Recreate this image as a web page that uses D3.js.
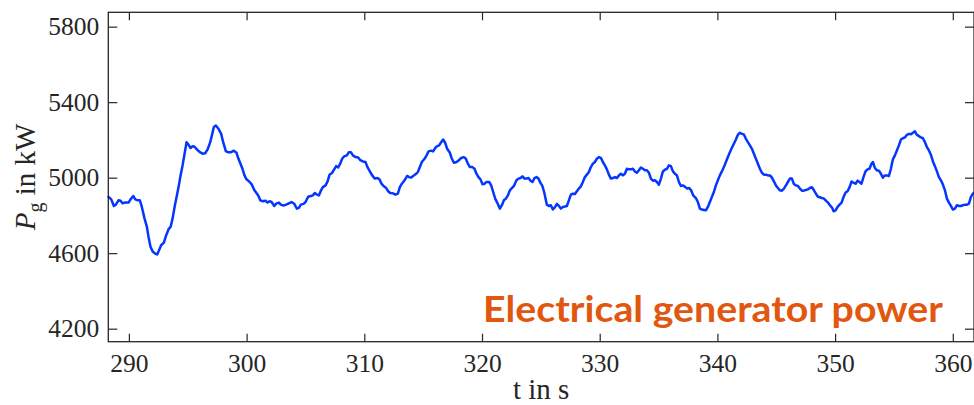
<!DOCTYPE html>
<html>
<head>
<meta charset="utf-8">
<script src="https://cdn.jsdelivr.net/npm/d3@7"></script>
<style>
  html, body { margin: 0; padding: 0; background: #fff; }
  svg { display: block; }
</style>
</head>
<body>
<svg id="chart" width="974" height="405"></svg>
<script>
// Generator power trace, time in s and power in kW
const time = [
  288.27,288.50,288.72,288.89,289.12,289.29,289.46,289.69,289.97,290.14,290.37,290.54,290.76,290.93,
  291.10,291.33,291.53,291.67,291.84,292.04,292.23,292.40,292.57,292.74,292.97,293.17,293.37,293.54,
  293.71,293.88,294.05,294.22,294.39,294.56,294.73,294.90,295.07,295.24,295.41,295.58,295.80,296.03,
  296.26,296.48,296.71,296.91,297.05,297.22,297.39,297.61,297.84,298.01,298.24,298.46,298.69,298.92,
  299.14,299.31,299.48,299.65,299.82,299.99,300.22,300.45,300.65,300.99,301.16,301.38,301.61,301.78,
  301.95,302.12,302.35,302.51,302.74,302.91,303.14,303.36,303.59,303.82,304.04,304.27,304.44,304.61,
  304.84,305.01,305.23,305.46,305.63,305.80,305.97,306.14,306.31,306.48,306.71,306.88,307.05,307.27,
  307.44,307.61,307.78,307.95,308.12,308.29,308.52,308.69,308.86,309.03,309.26,309.48,309.65,309.88,
  310.10,310.27,310.50,310.67,310.90,311.12,311.29,311.46,311.63,311.86,312.03,312.20,312.43,312.65,
  312.85,313.02,313.19,313.42,313.64,313.81,313.98,314.15,314.38,314.55,314.72,314.89,315.12,315.29,
  315.46,315.68,315.85,316.02,316.19,316.36,316.53,316.70,316.87,317.04,317.27,317.44,317.61,317.84,
  318.01,318.23,318.46,318.63,318.80,318.97,319.19,319.36,319.53,319.70,319.87,320.04,320.21,320.38,
  320.61,320.78,320.95,321.12,321.29,321.52,321.69,321.86,322.03,322.20,322.37,322.54,322.71,322.93,
  323.10,323.27,323.44,323.61,323.78,323.95,324.12,324.29,324.46,324.63,324.80,324.97,325.11,325.28,
  325.40,325.51,325.68,325.85,326.02,326.19,326.36,326.53,326.70,326.87,327.04,327.21,327.38,327.55,
  327.72,327.89,328.06,328.23,328.40,328.57,328.74,328.91,329.08,329.25,329.42,329.59,329.76,329.93,
  330.10,330.27,330.44,330.61,330.78,330.95,331.12,331.29,331.46,331.63,331.80,331.97,332.14,332.31,
  332.48,332.65,332.82,332.99,333.16,333.33,333.50,333.67,333.84,334.01,334.18,334.35,334.52,334.69,
  334.86,335.03,335.20,335.37,335.54,335.71,335.88,336.05,336.22,336.39,336.56,336.73,336.90,337.07,
  337.24,337.43,337.60,337.77,337.94,338.17,338.34,338.51,338.68,338.85,339.02,339.19,339.36,339.53,
  339.70,339.87,340.04,340.21,340.38,340.55,340.72,340.89,341.06,341.23,341.40,341.57,341.74,341.91,
  342.08,342.25,342.42,342.59,342.76,342.93,343.10,343.27,343.44,343.61,343.78,343.95,344.12,344.29,
  344.46,344.63,344.80,344.97,345.14,345.31,345.48,345.65,345.82,345.99,346.16,346.33,346.50,346.67,
  346.84,347.01,347.18,347.35,347.52,347.69,347.86,348.03,348.20,348.37,348.54,348.71,348.88,349.05,
  349.22,349.39,349.56,349.75,349.87,350.04,350.21,350.38,350.55,350.72,350.89,351.06,351.23,351.40,
  351.57,351.74,351.91,352.07,352.24,352.41,352.58,352.75,352.92,353.09,353.21,353.38,353.55,353.72,
  353.89,354.06,354.23,354.40,354.57,354.74,354.91,355.08,355.25,355.42,355.59,355.76,355.93,356.10,
  356.27,356.44,356.61,356.78,356.95,357.12,357.29,357.46,357.63,357.80,357.97,358.14,358.31,358.48,
  358.65,358.82,358.99,359.16,359.33,359.50,359.67,359.84,360.01,360.18,360.35,360.52,360.69,360.86,
  361.03,361.20,361.37,361.54,361.71,361.82
];
const power = [
  4898,4885,4850,4857,4880,4878,4864,4868,4868,4885,4903,4885,4880,4880,
  4845,4783,4739,4686,4633,4607,4598,4593,4616,4642,4656,4695,4727,4739,
  4783,4845,4898,4950,5012,5065,5127,5188,5174,5157,5167,5164,5148,5135,
  5127,5129,5153,5188,5224,5268,5276,5259,5232,5188,5139,5135,5135,5143,
  5132,5100,5074,5047,5012,4991,4980,4963,4935,4906,4880,4875,4878,4868,
  4875,4871,4850,4862,4868,4857,4852,4857,4864,4871,4862,4836,4840,4857,
  4861,4871,4899,4903,4906,4919,4910,4906,4931,4950,4959,4980,5016,5026,
  5044,5061,5054,5074,5100,5113,5118,5135,5135,5118,5109,5107,5093,5086,
  5083,5056,5030,5012,4995,4998,4991,4968,4956,4945,4928,4919,4917,4910,
  4915,4950,4968,4986,5009,5003,5000,5009,5019,5030,5056,5083,5100,5118,
  5139,5143,5139,5157,5167,5171,5188,5202,5185,5153,5132,5100,5079,5083,
  5091,5104,5109,5100,5074,5056,5056,5047,5021,5003,4991,4965,4968,4977,
  4977,4959,4924,4889,4868,4836,4854,4880,4889,4906,4933,4945,4956,4986,
  4995,4998,5007,4995,4995,4998,4984,4977,4998,5003,4995,4972,4959,4924,
  4889,4857,4850,4854,4832,4843,4861,4850,4836,4845,4847,4850,4880,4910,
  4915,4913,4928,4942,4954,4977,5003,5016,5030,5056,5074,5083,5100,5109,
  5105,5083,5065,5044,5016,4995,4998,5003,4998,5012,5021,5012,5021,5047,
  5044,5044,5047,5033,5026,5039,5054,5047,5039,5039,5026,4995,4984,4986,
  4977,4963,4995,5033,5042,5047,5065,5061,5033,5021,5012,4977,4956,4959,
  4952,4942,4945,4933,4906,4892,4871,4836,4831,4829,4827,4845,4871,4898,
  4924,4959,4986,5012,5033,5056,5083,5109,5135,5158,5180,5202,5227,5238,
  5232,5229,5206,5188,5171,5153,5127,5100,5074,5047,5026,5016,5016,5012,
  5012,5000,4980,4959,4945,4933,4931,4942,4959,4977,4995,4995,4966,4959,
  4956,4942,4931,4931,4935,4938,4945,4949,4933,4915,4899,4896,4892,4889,
  4878,4868,4854,4840,4822,4827,4845,4857,4868,4898,4921,4928,4950,4980,
  4973,4968,4984,4977,4968,5003,5033,5044,5047,5074,5083,5051,5039,5037,
  5021,5000,5012,5012,5009,5047,5097,5118,5144,5171,5202,5209,5213,5227,
  5232,5230,5238,5245,5227,5220,5213,5209,5188,5162,5144,5121,5086,5061,
  5033,5003,4986,4963,4933,4889,4868,4850,4831,4836,4854,4850,4850,4854,
  4857,4857,4862,4898,4915,4921
];

const xTicks = [290, 300, 310, 320, 330, 340, 350, 360];
const yTicks = [4200, 4600, 5000, 5400, 5800];
const xDomain = [288.25, 361.8];
const yDomain = [4131, 5876];
const xLabel = "t in s";
const yLabelVar = "P";
const yLabelSub = "g";
const yLabelUnit = " in kW";
const annotation = "Electrical generator power";

const axisColor = "#262626";
const lineColor = "#0536ff";
const noteColor = "#e2570f";
const serif = "'Liberation Serif', 'DejaVu Serif', serif";

const svg = d3.select("#chart");
const plot = { left: 108.3, right: 974, top: 12.3, bottom: 341.7 };

const x = d3.scaleLinear().domain(xDomain).range([plot.left, plot.right]);
const y = d3.scaleLinear().domain(yDomain).range([plot.bottom, plot.top]);

// Data line
const series = time.map((t, i) => ({ t, p: power[i] }));
svg.append("path")
  .datum(series)
  .attr("fill", "none")
  .attr("stroke", lineColor)
  .attr("stroke-width", 2.5)
  .attr("stroke-linejoin", "round")
  .attr("stroke-linecap", "round")
  .attr("d", d3.line().x(d => x(d.t)).y(d => y(d.p)));

// Axes with inward ticks on all four sides
function styleAxis(g, showLabels) {
  g.select(".domain").remove();
  g.selectAll(".tick line").attr("stroke", axisColor).attr("stroke-width", 1.2);
  g.selectAll(".tick text")
    .attr("fill", axisColor)
    .style("font-family", serif)
    .style("font-size", "25.5px");
  if (!showLabels) g.selectAll(".tick text").remove();
}

svg.append("g")
  .attr("transform", `translate(0,${plot.bottom})`)
  .call(d3.axisBottom(x).tickValues(xTicks).tickFormat(d3.format("d")).tickSizeInner(-8).tickSizeOuter(0).tickPadding(12))
  .call(g => styleAxis(g, true));

svg.append("g")
  .attr("transform", `translate(0,${plot.top})`)
  .call(d3.axisTop(x).tickValues(xTicks).tickSizeInner(-8).tickSizeOuter(0))
  .call(g => styleAxis(g, false));

svg.append("g")
  .attr("transform", `translate(${plot.left},0)`)
  .call(d3.axisLeft(y).tickValues(yTicks).tickFormat(d3.format("d")).tickSizeInner(-9).tickSizeOuter(0).tickPadding(9))
  .call(g => styleAxis(g, true));

svg.append("g")
  .attr("transform", `translate(${plot.right},0)`)
  .call(d3.axisRight(y).tickValues(yTicks).tickSizeInner(-9).tickSizeOuter(0))
  .call(g => styleAxis(g, false));

// Plot frame
svg.append("rect")
  .attr("x", plot.left).attr("y", plot.top)
  .attr("width", plot.right - plot.left).attr("height", plot.bottom - plot.top)
  .attr("fill", "none").attr("stroke", axisColor).attr("stroke-width", 1.3);

// Axis titles
svg.append("text")
  .attr("x", (plot.left + plot.right) / 2)
  .attr("y", 399)
  .attr("text-anchor", "middle")
  .attr("fill", axisColor)
  .style("font-family", serif)
  .style("font-size", "29px")
  .text(xLabel);

const yTitle = svg.append("text")
  .attr("transform", `translate(35,${(plot.top + plot.bottom) / 2}) rotate(-90)`)
  .attr("text-anchor", "middle")
  .attr("fill", axisColor)
  .style("font-family", serif)
  .style("font-size", "29px");
yTitle.append("tspan").style("font-style", "italic").text(yLabelVar);
yTitle.append("tspan").attr("dy", 7).style("font-size", "20px").text(yLabelSub);
yTitle.append("tspan").attr("dy", -7).text(yLabelUnit);

// Annotation
svg.append("text")
  .attr("x", 483)
  .attr("y", 322)
  .attr("fill", noteColor)
  .attr("textLength", 460)
  .attr("lengthAdjust", "spacingAndGlyphs")
  .style("font-family", "Lato, 'Open Sans', sans-serif")
  .style("font-weight", 700)
  .style("font-size", "37px")
  .text(annotation);
</script>
</body>
</html>
